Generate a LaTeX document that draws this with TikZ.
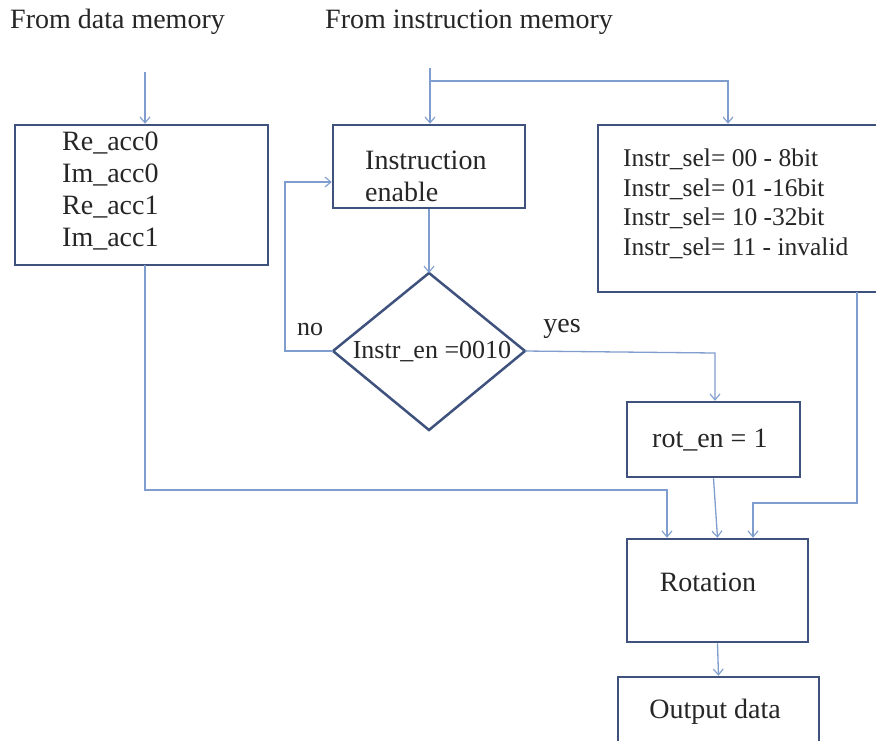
\documentclass[tikz,border=0pt]{standalone}
\usepackage{fontspec}
\setmainfont{Liberation Serif}
\usetikzlibrary{arrows.meta,calc}
\definecolor{boxc}{RGB}{62,82,125}
\definecolor{linec}{RGB}{128,158,205}
\begin{document}
\begin{tikzpicture}[x=1pt,y=-1pt,
  box/.style n args={2}{draw=boxc, line width=2.5pt, minimum width=#1, minimum height=#2, inner sep=0pt},
  txt/.style={font=\fontsize{28}{32}\selectfont, align=left, inner sep=0pt, text=black!85},
  smtxt/.style={font=\fontsize{26}{30}\selectfont, inner sep=0pt, text=black!85},
  seltxt/.style={font=\fontsize{25.5}{29.5}\selectfont, align=left, inner sep=0pt, text=black!85},
  conn/.style={draw=linec, line width=1.3pt},
  arr/.style={conn, -{Straight Barb[length=6pt,width=10pt,line width=1.1pt]}}
]
\fill[white] (0,0) rectangle (876,740);
\clip (0,0) rectangle (876,740);

% headers
\node[txt, anchor=west] (hdata) at (10,22) {From data memory};
\node[txt, anchor=west] (hinstr) at (325,22) {From instruction memory};

% boxes
\node[box={253pt}{140pt}] (acc) at (141.5,195) {};
\node[txt, anchor=west] (acct) at (62,191) {Re\_acc0\\Im\_acc0\\Re\_acc1\\Im\_acc1};

\node[box={192pt}{83pt}] (en) at (429,166.5) {};
\node[txt, anchor=west] (ent) at (365,176) {Instruction\\enable};

\node[box={284pt}{167pt}] (sel) at (740,208.5) {};
\node[seltxt, anchor=west] (selt) at (623,204) {Instr\_sel= 00 - 8bit\\Instr\_sel= 01 -16bit\\Instr\_sel= 10 -32bit\\Instr\_sel= 11 - invalid};

% diamond
\coordinate (dt) at (429,273);
\coordinate (dr) at (525,351);
\coordinate (db) at (429,430);
\coordinate (dl) at (333,351);
\draw[boxc, line width=2.5pt, line join=miter] (dt) -- (dr) -- (db) -- (dl) -- cycle;
\node[smtxt] (dtxt) at (432,352) {Instr\_en =0010};
\node[smtxt] (no) at (310,329) {no};
\node[txt] (yes) at (562,329) {yes};

\node[box={173pt}{75pt}] (rot) at (713.5,439.5) {};
\node[txt, anchor=west] (rott) at (652,440) {rot\_en = 1};

\node[box={181pt}{103pt}] (rotation) at (717.5,590.5) {};
\node[txt] (rotationt) at (708,582) {Rotation};

\node[box={201pt}{70pt}] (out) at (718.5,712) {};
\node[txt] (outt) at (715,712) {Output data};

% connectors
\coordinate (dm) at (145,72);
\draw[arr] (dm) -- (acc.north -| dm);

\coordinate (im) at (430,68);
\coordinate (jl) at (430,81);
\coordinate (jr) at (728,81);
\draw[arr] (im) -- (en.north -| im);
\draw[arr] (jl) -- (jr) -- (sel.north -| jr);

\draw[arr] (en.south -| dt) -- (dt);

\coordinate (nl) at (285,182);
\draw[arr] (dl) -| (nl) -- (en.west |- nl);

\coordinate (yc) at (715,353);
\draw[arr] (dr) -- (yc) -- (rot.north -| yc);

\coordinate (as) at (145,265);
\coordinate (ac) at (667,490);
\draw[arr] (as) |- (ac) -- (rotation.north -| ac);

\draw[arr] (rot.south) -- (rotation.north);

\coordinate (ss) at (857,292);
\coordinate (sc) at (753,503);
\draw[arr] (ss) |- (sc) -- (rotation.north -| sc);

\draw[arr] (rotation.south) -- (out.north);
\end{tikzpicture}
\end{document}
